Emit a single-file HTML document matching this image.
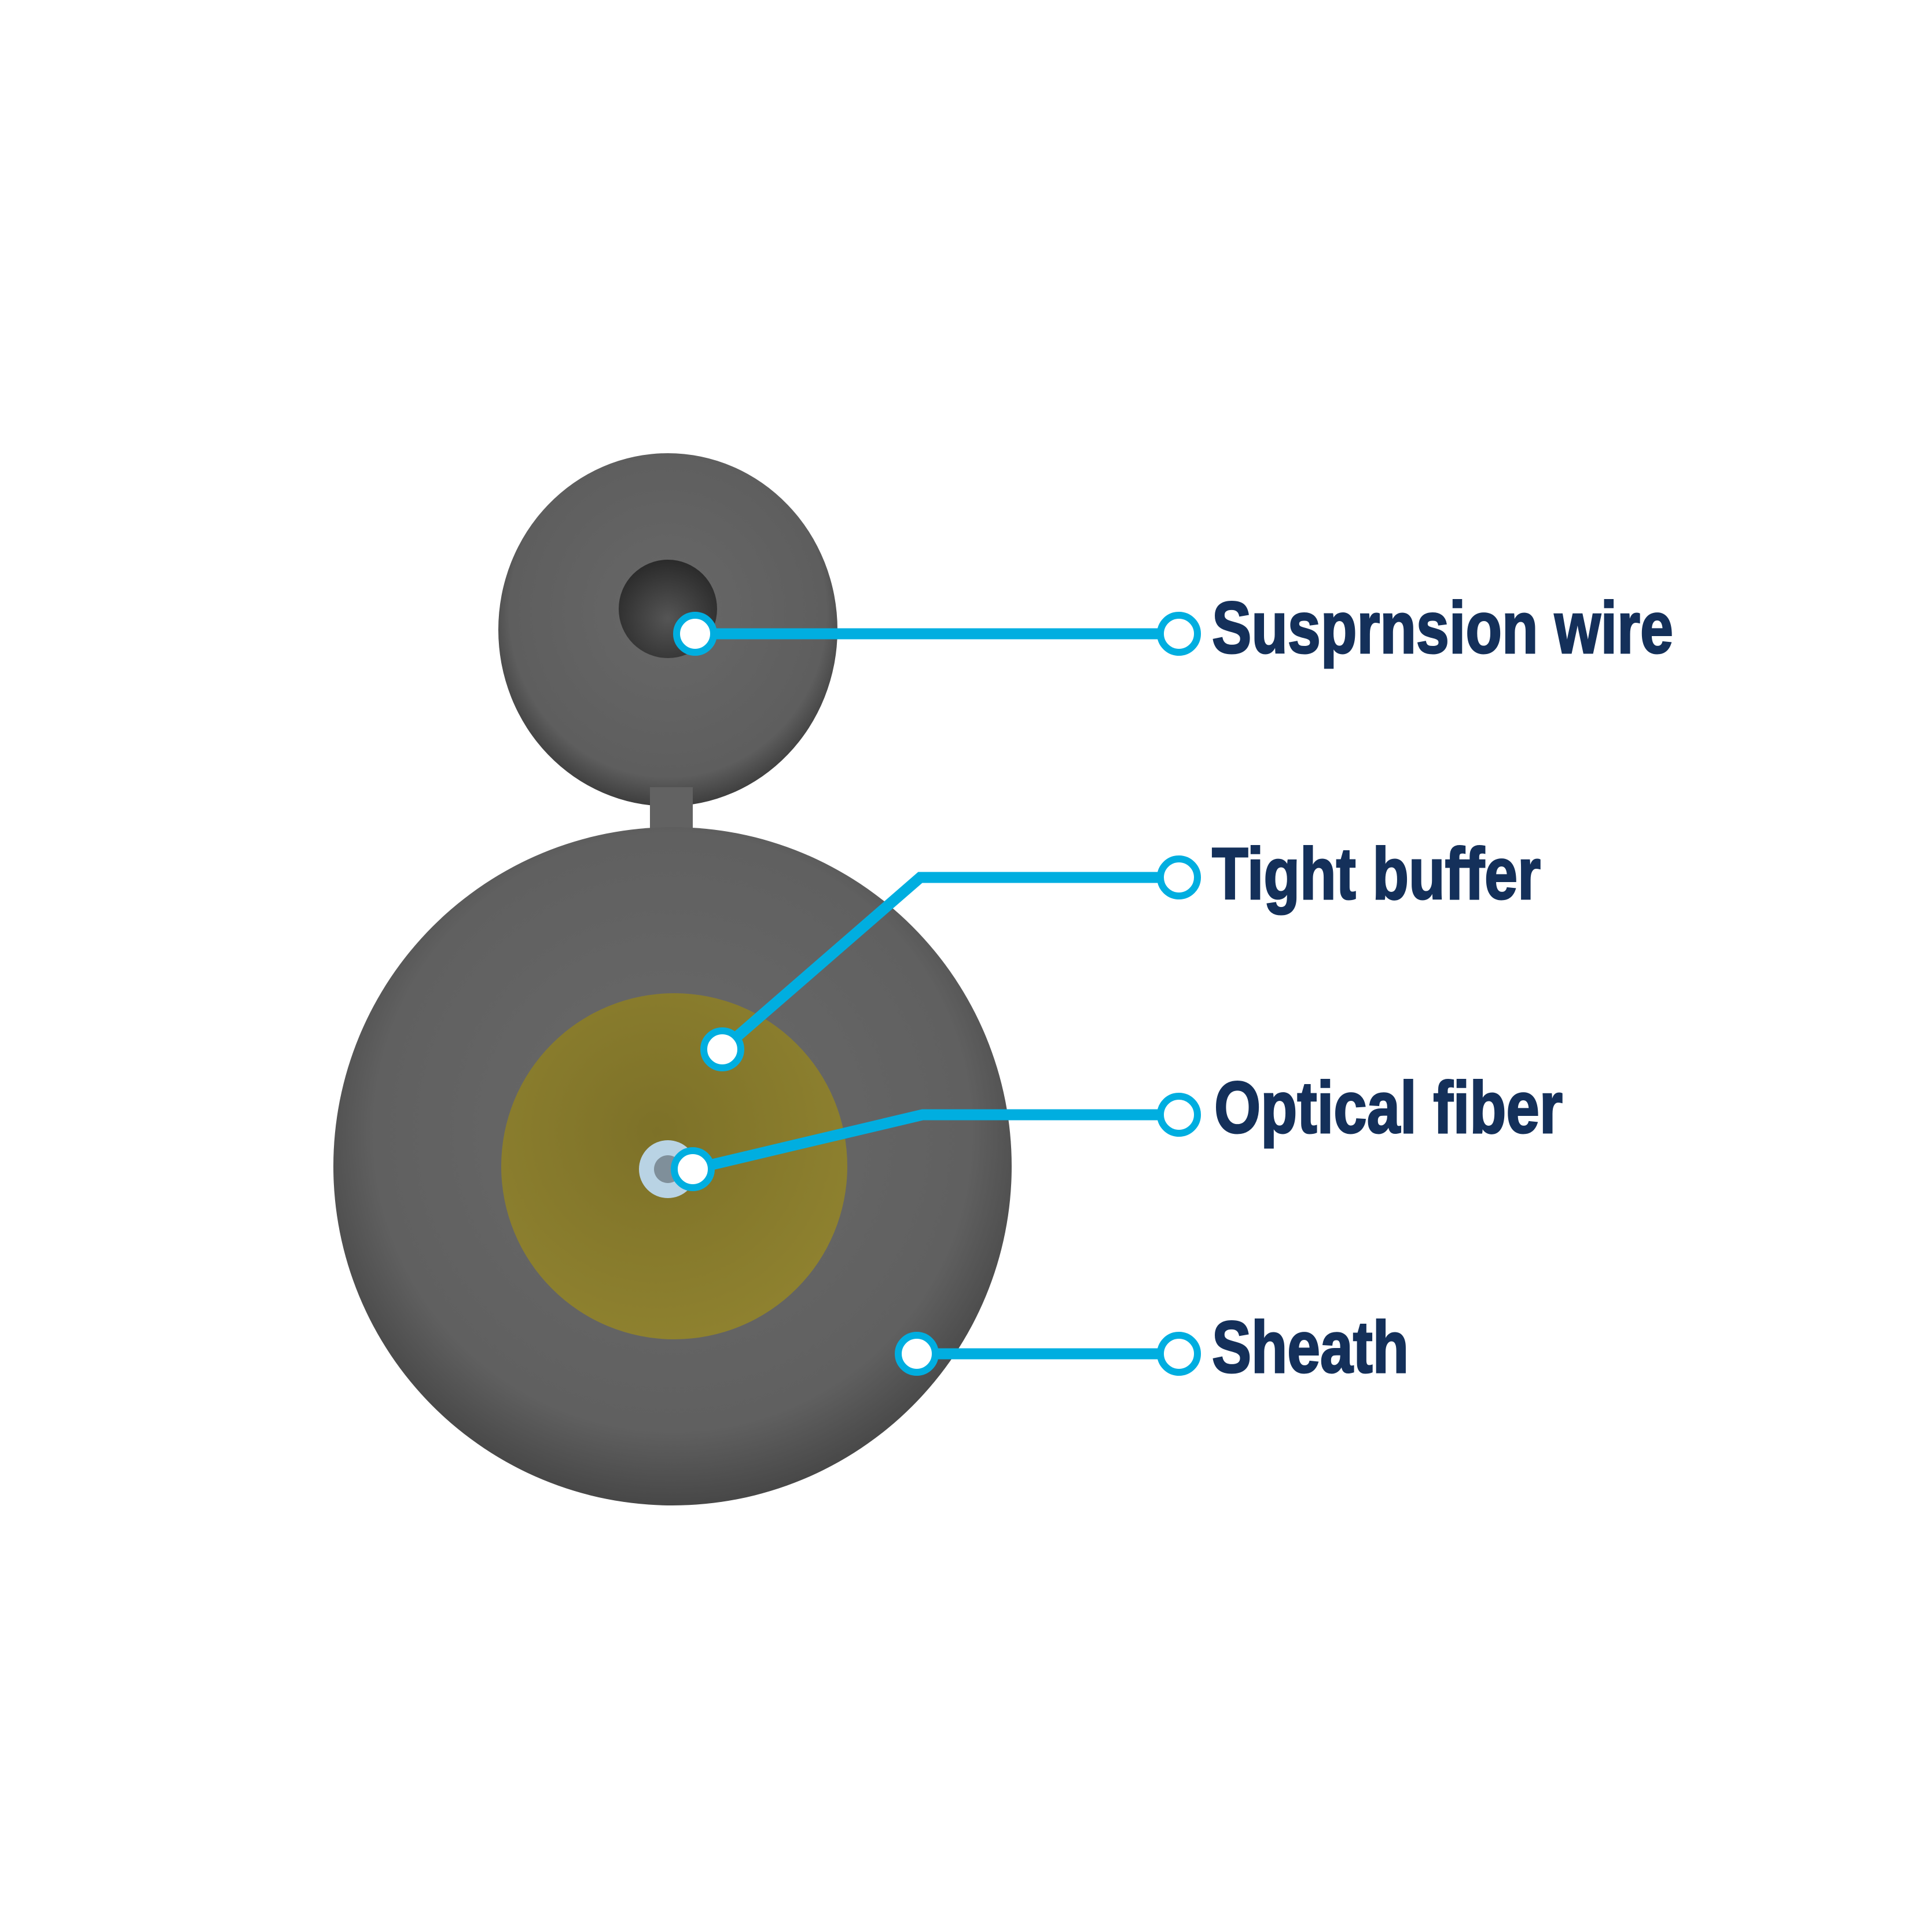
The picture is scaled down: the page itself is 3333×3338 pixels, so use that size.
<!DOCTYPE html>
<html><head><style>html,body{margin:0;padding:0;background:#fff}</style></head>
<body>
<svg width="3333" height="3333" viewBox="0 0 3333 3333" xmlns="http://www.w3.org/2000/svg">
<defs>
<radialGradient id="g1" cx="50%" cy="45%" r="55%"><stop offset="0" stop-color="#6a6a6a"/><stop offset="0.8" stop-color="#606060"/><stop offset="1" stop-color="#474747"/></radialGradient>
<radialGradient id="g2" cx="50%" cy="45%" r="55%"><stop offset="0" stop-color="#686868"/><stop offset="0.85" stop-color="#5e5e5e"/><stop offset="1" stop-color="#3e3e3e"/></radialGradient>
<radialGradient id="y" cx="45%" cy="40%" r="60%"><stop offset="0" stop-color="#7d7128"/><stop offset="1" stop-color="#8e812f"/></radialGradient>
<radialGradient id="w" cx="50%" cy="60%" r="60%"><stop offset="0" stop-color="#555"/><stop offset="1" stop-color="#2a2a2a"/></radialGradient>
</defs>
<ellipse cx="1154" cy="1088" rx="293" ry="305" fill="url(#g2)"/>
<rect x="1123" y="1360" width="74" height="90" fill="#626262"/>
<circle cx="1162" cy="2015" r="586" fill="url(#g1)"/>
<circle cx="1154" cy="1052" r="85" fill="url(#w)"/>
<circle cx="1165" cy="2015" r="299" fill="url(#y)"/>
<circle cx="1154" cy="2020" r="50" fill="#b9d3e4"/>
<circle cx="1154" cy="2020" r="24" fill="#7f8f9a"/>
<g stroke="#00aee0" stroke-width="19" fill="none" stroke-linejoin="miter">
<polyline points="1201,1095 2003,1095"/>
<polyline points="1248,1813 1590,1516 2003,1516"/>
<polyline points="1197,2020 1594,1926 2003,1926"/>
<polyline points="1584,2339 2003,2339"/>
</g>
<g fill="#fff" stroke="#00aee0" stroke-width="12">
<circle cx="1201" cy="1095" r="32"/><circle cx="2037" cy="1095" r="32"/>
<circle cx="1248" cy="1813" r="32"/><circle cx="2037" cy="1516" r="32"/>
<circle cx="1197" cy="2020" r="32"/><circle cx="2037" cy="1926" r="32"/>
<circle cx="1584" cy="2339" r="32"/><circle cx="2037" cy="2339" r="32"/>
</g>
<g fill="#14305a" stroke="#14305a" stroke-width="3" font-family="Liberation Sans, sans-serif" font-weight="bold" font-size="126">
<text x="2094" y="1128" textLength="797" lengthAdjust="spacingAndGlyphs">Susprnsion wire</text>
<text x="2094" y="1553" textLength="568" lengthAdjust="spacingAndGlyphs">Tight buffer</text>
<text x="2098" y="1957" textLength="602" lengthAdjust="spacingAndGlyphs">Optical fiber</text>
<text x="2094" y="2371" textLength="340" lengthAdjust="spacingAndGlyphs">Sheath</text>
</g>
</svg>
</body></html>
